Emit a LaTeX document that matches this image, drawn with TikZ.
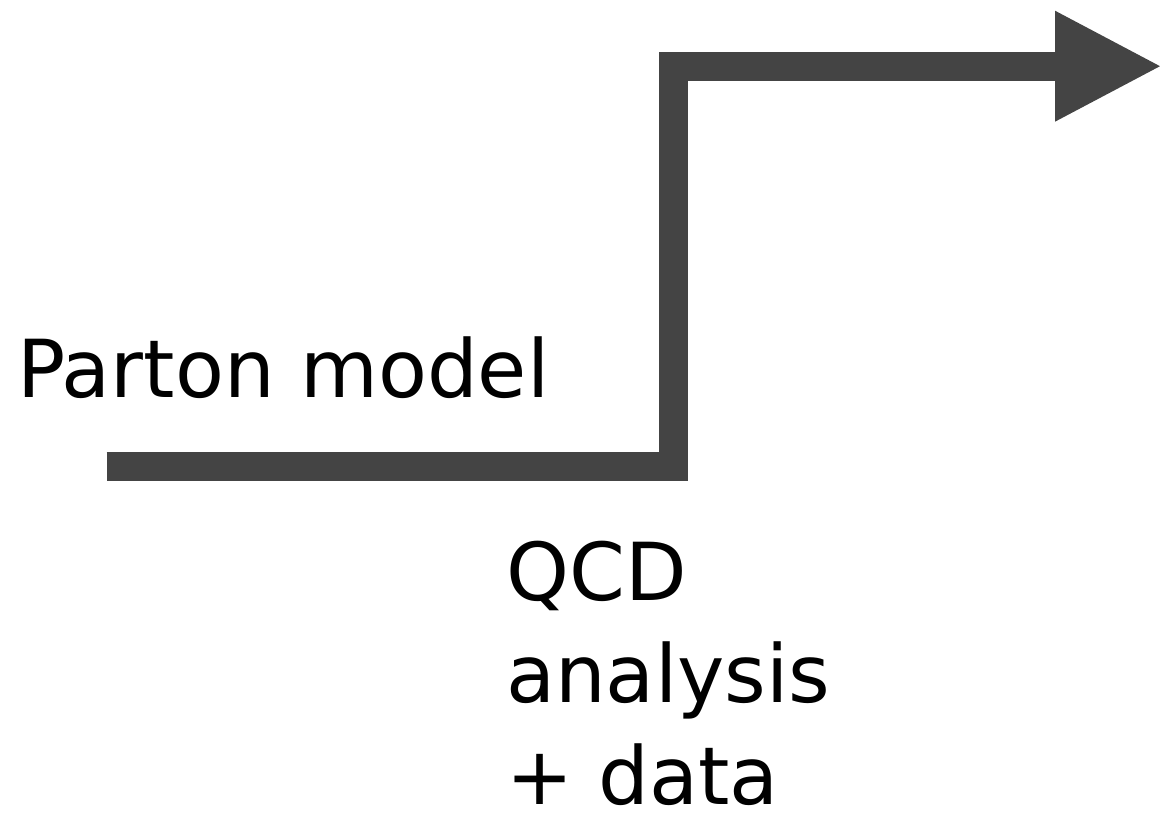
\documentclass[tikz,border=0pt]{standalone}
\usepackage{fontspec}
\setmainfont{DejaVu Sans}
\usetikzlibrary{arrows.meta}
\definecolor{arrowgray}{HTML}{444444}

\begin{document}
\begin{tikzpicture}[x=1pt,y=-1pt,
stepline/.style={draw=arrowgray, line width=29pt, line join=miter, line cap=butt,
  -{Triangle[length=105pt,width=111pt,line width=0pt]}},
lbl/.style={inner sep=0pt, font=\fontsize{80}{102}\selectfont, align=left}]
\useasboundingbox (0,0) rectangle (1160,832);
\node[lbl, anchor=base west] (parton) at (17,397) {Parton model};
% base of a multi-line node is its last line
\node[lbl, anchor=base west] (qcd) at (506,804) {QCD\\analysis\\+ data};
\coordinate (start) at (106.7,466.2);
\coordinate (up) at (673.8,466.2);
\coordinate (top) at (673.8,66.2);
\coordinate (tip) at (1160,66.2);
\draw[stepline] (start) -- (up) -- (top) -- (tip);
\end{tikzpicture}
\end{document}
